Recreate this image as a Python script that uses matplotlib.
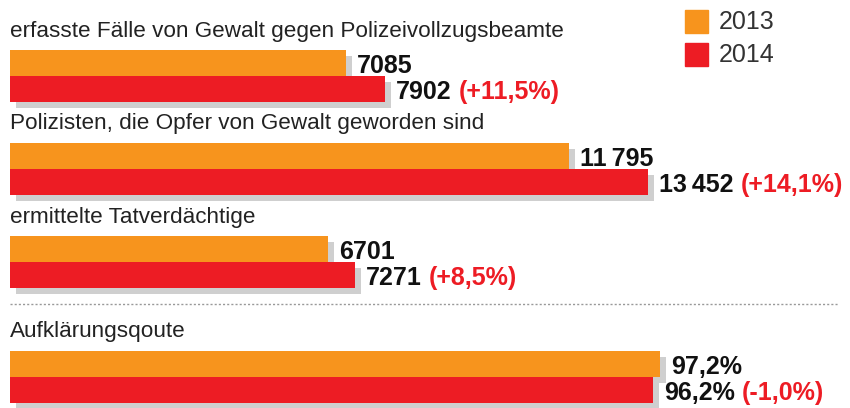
import matplotlib
matplotlib.use("Agg")
import matplotlib.pyplot as plt
from matplotlib import font_manager
from matplotlib.patches import Rectangle
from matplotlib.transforms import ScaledTranslation

# Daten
kategorien = [
    "erfasste Fälle von Gewalt gegen Polizeivollzugsbeamte",
    "Polizisten, die Opfer von Gewalt geworden sind",
    "ermittelte Tatverdächtige",
]
werte_2013 = [7085, 11795, 6701]
werte_2014 = [7902, 13452, 7271]
aenderungen = ["(+11,5%)", "(+14,1%)", "(+8,5%)"]

quote_label = "Aufklärungsqoute"
quote_2013 = 97.2
quote_2014 = 96.2
quote_aenderung = "(-1,0%)"

jahre = ["2013", "2014"]

ORANGE = "#F7941D"
ROT = "#ED1C24"
SCHATTEN = "#CFCFCF"

# Schrift: schmale Sans, falls vorhanden
verfuegbar = {f.name for f in font_manager.fontManager.ttflist}
familien = [f for f in ["Liberation Sans Narrow", "DejaVu Sans Condensed", "Liberation Sans", "Roboto"] if f in verfuegbar]
familien.append("DejaVu Sans")
plt.rcParams["font.family"] = familien


def fmt_zahl(v):
    if v >= 10000:
        return f"{v:,}".replace(",", "\u2009")
    return str(v)


def fmt_proz(v):
    return f"{v:.1f}%".replace(".", ",")


fig = plt.figure(figsize=(8.5, 4.08), dpi=100)

# zwei Achsen mit eigenem Maßstab (Anzahlen / Prozent), Pixel-Layout in y
ax = fig.add_axes([0, 0, 1, 1])
ax2 = fig.add_axes([0, 0, 1, 1])
px_pro_fall = 0.04742
px_pro_proz = 6.687
ax.set_xlim(-10 / px_pro_fall, 840 / px_pro_fall)
ax2.set_xlim(-10 / px_pro_proz, 840 / px_pro_proz)
for a in (ax, ax2):
    a.set_ylim(408, 0)
    a.axis("off")
    a.patch.set_alpha(0)

schatten_tr = ScaledTranslation(6 / 100, -6 / 100, fig.dpi_scale_trans)

titel_y = [31, 124, 218]
balken_oben = [50, 143, 236]
h = 26


def zeichne_gruppe(a, titel, ty, oben, v13, v14, txt13, txt14, aenderung):
    a.text(0, ty, titel, fontsize=16.2, color="#222222", va="center", ha="left")
    # Schatten
    for v, y in [(v13, oben), (v14, oben + h)]:
        a.barh(y, v, height=h, align="edge", color=SCHATTEN, zorder=1,
               transform=a.transData + schatten_tr)
    a.barh(oben, v13, height=h, align="edge", color=ORANGE, zorder=2)
    a.barh(oben + h, v14, height=h, align="edge", color=ROT, zorder=2)
    a.annotate(txt13, xy=(v13, oben + h / 2), xytext=(11, -3), textcoords="offset pixels",
               fontsize=18, fontweight="bold", color="#111111", va="center", ha="left")
    t = a.annotate(txt14, xy=(v14, oben + 1.5 * h), xytext=(11, -3), textcoords="offset pixels",
                   fontsize=18, fontweight="bold", color="#111111", va="center", ha="left")
    a.annotate(aenderung, xy=(1, 0), xycoords=t, xytext=(7, 0), textcoords="offset pixels",
               fontsize=18, fontweight="bold", color=ROT, va="bottom", ha="left")


for i, kat in enumerate(kategorien):
    zeichne_gruppe(ax, kat, titel_y[i], balken_oben[i], werte_2013[i], werte_2014[i],
                   fmt_zahl(werte_2013[i]), fmt_zahl(werte_2014[i]), aenderungen[i])

# Trennlinie
ax.plot([0, 828 / px_pro_fall], [304, 304], color="#999999", lw=1, ls=(0, (1.5, 1.5)))

zeichne_gruppe(ax2, quote_label, 331, 351, quote_2013, quote_2014,
               fmt_proz(quote_2013), fmt_proz(quote_2014), quote_aenderung)

# Legende
for j, (jahr, farbe) in enumerate(zip(jahre, [ORANGE, ROT])):
    y0 = 10 + j * 33
    fig.patches.append(Rectangle((685 / 850, 1 - (y0 + 23) / 408), 23 / 850, 23 / 408,
                                 transform=fig.transFigure, color=farbe))
    fig.text(719 / 850, 1 - (y0 + 12) / 408, jahr, fontsize=18, color="#333333",
             va="center", ha="left")

fig.savefig("out.png", dpi=100)
